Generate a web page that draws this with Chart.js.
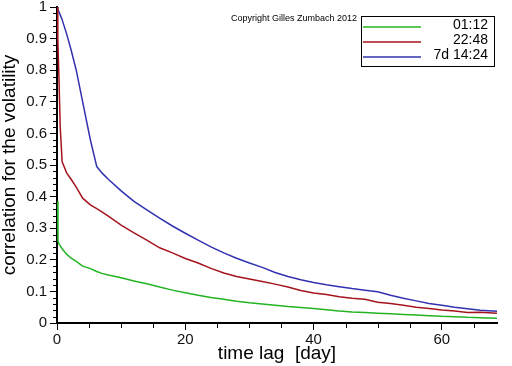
<!DOCTYPE html>
<html>
<head>
<meta charset="utf-8">
<script src="https://cdn.jsdelivr.net/npm/chart.js@4.4.1/dist/chart.umd.min.js"></script>
<style>
  html, body { margin: 0; padding: 0; background: #fff; }
  #chart { display: block; }
</style>
</head>
<body>
<canvas id="chart" width="512" height="366"></canvas>
<script>
// time lags in days (shared by the three curves)
const lagDays = [0, 0.1, 0.15, 0.3, 0.5, 0.8, 1.5, 2.2, 3, 4, 5.2, 6.2, 7, 8, 10, 12, 14, 16, 18, 20,
  22, 24, 26, 28, 30, 32, 34, 36, 38, 40, 42, 44, 46, 48, 50, 52, 54, 56, 58, 60, 62, 64, 66, 68.6];

const seriesLabels = ['01:12', '22:48', '7d 14:24'];
const seriesColors = ['#22b422', '#a5141e', '#3232b0'];

const corr0112 = [null, 0.385, 0.26, 0.25, 0.245, 0.235, 0.218, 0.205, 0.195, 0.18, 0.172, 0.163, 0.157, 0.152,
  0.143, 0.133, 0.124, 0.114, 0.104, 0.096, 0.088, 0.081, 0.075, 0.069, 0.064, 0.06, 0.056, 0.052, 0.049,
  0.046, 0.042, 0.038, 0.035, 0.033, 0.031, 0.029, 0.027, 0.025, 0.023, 0.021, 0.02, 0.018, 0.017, 0.015];
const corr2248 = [1.0, 0.95, 0.9, 0.78, 0.62, 0.51, 0.475, 0.455, 0.43, 0.395, 0.374, 0.362, 0.352, 0.338,
  0.31, 0.285, 0.262, 0.238, 0.222, 0.204, 0.19, 0.173, 0.158, 0.147, 0.139, 0.131, 0.123, 0.114, 0.103,
  0.095, 0.09, 0.083, 0.078, 0.075, 0.066, 0.062, 0.056, 0.05, 0.046, 0.041, 0.038, 0.033, 0.034, 0.031];
const corr7d1424 = [1.0, 0.995, 0.993, 0.985, 0.975, 0.96, 0.915, 0.864, 0.8, 0.7, 0.58, 0.495, 0.475, 0.455,
  0.418, 0.385, 0.358, 0.332, 0.307, 0.284, 0.262, 0.241, 0.222, 0.205, 0.19, 0.176, 0.16, 0.147, 0.137,
  0.128, 0.121, 0.115, 0.109, 0.104, 0.099, 0.088, 0.078, 0.07, 0.062, 0.056, 0.05, 0.045, 0.04, 0.037];

const xTicks = [0, 20, 40, 60];
const xMinorTicks = [5, 10, 15, 25, 30, 35, 45, 50, 55, 65];
const yTicks = [0, 0.1, 0.2, 0.3, 0.4, 0.5, 0.6, 0.7, 0.8, 0.9, 1];
const yMinorTicks = [];
for (let i = 1; i < 50; i += 1) {
  if (i % 5 !== 0) yMinorTicks.push(i / 50);
}

function toPoints(values) {
  return lagDays.map(function (x, i) { return { x: x, y: values[i] }; });
}

const minorTicksPlugin = {
  id: 'minorTicks',
  afterDraw: function (chart) {
    const ctx = chart.ctx;
    const xs = chart.scales.x;
    const ys = chart.scales.y;
    const area = chart.chartArea;
    ctx.save();
    ctx.strokeStyle = '#000';
    ctx.lineWidth = 1;
    ctx.beginPath();
    yMinorTicks.forEach(function (v) {
      const py = Math.round(ys.getPixelForValue(v)) + 0.5;
      ctx.moveTo(area.left - 4, py);
      ctx.lineTo(area.left, py);
    });
    xMinorTicks.forEach(function (v) {
      const px = Math.round(xs.getPixelForValue(v)) + 0.5;
      ctx.moveTo(px, area.bottom);
      ctx.lineTo(px, area.bottom + 5);
    });
    ctx.stroke();
    ctx.restore();
  }
};

const boxLegendPlugin = {
  id: 'boxLegend',
  afterDraw: function (chart) {
    const ctx = chart.ctx;
    ctx.save();
    // copyright note
    ctx.fillStyle = '#000';
    ctx.font = '9px "Liberation Sans", Arial, sans-serif';
    ctx.textAlign = 'left';
    ctx.textBaseline = 'alphabetic';
    ctx.fillText('Copyright Gilles Zumbach 2012', 231, 21);

    // legend box
    ctx.strokeStyle = '#000';
    ctx.lineWidth = 1;
    ctx.strokeRect(361.5, 16.5, 133, 50);
    ctx.font = '14px "Liberation Sans", Arial, sans-serif';
    ctx.textAlign = 'right';
    ctx.textBaseline = 'middle';
    seriesLabels.forEach(function (label, i) {
      const y = 27 + i * 15;
      ctx.strokeStyle = seriesColors[i];
      ctx.lineWidth = 1.5;
      ctx.beginPath();
      ctx.moveTo(363, y);
      ctx.lineTo(421, y);
      ctx.stroke();
      ctx.fillStyle = '#000';
      ctx.fillText(label, 488, y - 2);
    });
    ctx.restore();
  }
};

const chartEl = document.getElementById('chart');
new Chart(chartEl, {
  type: 'line',
  data: {
    datasets: [
      { label: seriesLabels[0], data: toPoints(corr0112), borderColor: seriesColors[0] },
      { label: seriesLabels[1], data: toPoints(corr2248), borderColor: seriesColors[1] },
      { label: seriesLabels[2], data: toPoints(corr7d1424), borderColor: seriesColors[2] }
    ].map(function (ds) {
      ds.borderWidth = 1.5;
      ds.pointRadius = 0;
      ds.tension = 0;
      ds.fill = false;
      ds.spanGaps = false;
      return ds;
    })
  },
  options: {
    responsive: false,
    animation: false,
    devicePixelRatio: 1,
    layout: { padding: { top: 7, right: 15, left: 0, bottom: 0 } },
    plugins: { legend: { display: false }, tooltip: { enabled: false } },
    scales: {
      x: {
        type: 'linear',
        min: 0,
        max: 68.6,
        afterFit: function (scale) {
          scale.height = 43;
          scale.paddingLeft = 0;
          scale.paddingRight = 0;
        },
        afterBuildTicks: function (scale) { scale.ticks = xTicks.map(function (v) { return { value: v }; }); },
        grid: { drawOnChartArea: false, drawTicks: true, tickLength: 7, tickColor: '#000', tickWidth: 1 },
        border: { color: '#000', width: 2 },
        ticks: {
          color: '#111',
          padding: 1,
          maxRotation: 0,
          font: { family: '"Liberation Sans", Arial, sans-serif', size: 15 },
          callback: function (v) { return String(v); }
        },
        title: {
          display: true,
          text: 'time lag  [day]',
          color: '#000',
          font: { family: '"Liberation Sans", Arial, sans-serif', size: 19, lineHeight: 1 },
          padding: { top: 0, bottom: 3 }
        }
      },
      y: {
        type: 'linear',
        min: 0,
        max: 1,
        afterFit: function (scale) {
          scale.width = 57;
          scale.paddingTop = 0;
          scale.paddingBottom = 0;
        },
        afterBuildTicks: function (scale) { scale.ticks = yTicks.map(function (v) { return { value: v }; }); },
        grid: { drawOnChartArea: false, drawTicks: true, tickLength: 7, tickColor: '#000', tickWidth: 1 },
        border: { color: '#000', width: 2 },
        ticks: {
          color: '#111',
          padding: 3,
          font: { family: '"Liberation Sans", Arial, sans-serif', size: 15 },
          callback: function (v) { return v === 0 ? '0' : v === 1 ? '1' : v.toFixed(1); }
        },
        title: {
          display: true,
          text: 'correlation for the volatility',
          color: '#000',
          font: { family: '"Liberation Sans", Arial, sans-serif', size: 19, lineHeight: 1 },
          padding: { top: 0, bottom: 0 }
        }
      }
    }
  },
  plugins: [minorTicksPlugin, boxLegendPlugin]
});
</script>
</body>
</html>
